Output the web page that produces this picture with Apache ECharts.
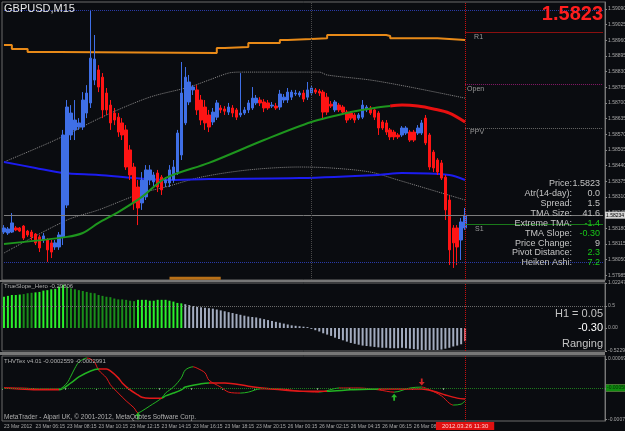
<!DOCTYPE html>
<html><head><meta charset="utf-8">
<script src="https://cdn.jsdelivr.net/npm/echarts@6/dist/echarts.min.js"></script>
<style>html,body{margin:0;padding:0;background:#0a0c10;}#c{width:625px;height:431px;}</style>
</head><body><div id="c"></div>
<script>
// ---------------- DATA ----------------
const symbolTitle = 'GBPUSD,M15';
const bigPrice = '1.5823';
const bidPrice = 1.58234;
const timeLabels = ['23 Mar 2012','23 Mar 06:15','23 Mar 08:15','23 Mar 10:15','23 Mar 12:15','23 Mar 14:15','23 Mar 16:15','23 Mar 18:15','23 Mar 20:15','26 Mar 00:15','26 Mar 02:15','26 Mar 04:15','26 Mar 06:15','26 Mar 08:15','26 Mar 10:15'];
const cursorTime = '2012.03.26 11:30';
const priceTicks = [1.59090,1.59025,1.58960,1.58895,1.58830,1.58765,1.58700,1.58635,1.58570,1.58505,1.58440,1.58375,1.58310,1.58245,1.58180,1.58115,1.58050,1.57985];

const opens = [1.58164,1.58160,1.58164,1.58181,1.58181,1.58189,1.58168,1.58164,1.58156,1.58144,
1.58131,1.58131,1.58119,1.58102,1.58102,1.58144,1.58276,1.58567,1.58588,1.58600,
1.58600,1.58658,1.58700,1.58795,1.58837,1.58807,1.58741,1.58691,1.58658,1.58641,
1.58617,1.58588,1.58505,1.58434,1.58351,1.58285,1.58310,1.58380,1.58372,1.58409,
1.58392,1.58368,1.58368,1.58380,1.58413,1.58484,1.58617,1.58704,1.58754,1.58754,
1.58712,1.58683,1.58650,1.58621,1.58641,1.58679,1.58675,1.58662,1.58679,1.58671,
1.58650,1.58658,1.58671,1.58679,1.58700,1.58712,1.58704,1.58700,1.58687,1.58687,
1.58683,1.58712,1.58712,1.58724,1.58737,1.58733,1.58741,1.58724,1.58741,1.58754,
1.58749,1.58745,1.58724,1.58695,1.58671,1.58691,1.58683,1.58662,1.58658,1.58650,
1.58637,1.58641,1.58671,1.58679,1.58671,1.58658,1.58621,1.58617,1.58588,1.58579,
1.58567,1.58567,1.58575,1.58579,1.58579,1.58575,1.58575,1.58637,1.58567,1.58496,
1.58463,1.58451,1.58392,1.58297,1.58181,1.58181,1.58131,1.58181];
const closes = [1.58181,1.58177,1.58202,1.58173,1.58168,1.58139,1.58152,1.58144,1.58119,1.58098,
1.58148,1.58090,1.58081,1.58119,1.58152,1.58567,1.58683,1.58658,1.58629,1.58617,
1.58712,1.58741,1.58886,1.58882,1.58766,1.58671,1.58671,1.58617,1.58629,1.58579,
1.58567,1.58434,1.58401,1.58285,1.58264,1.58380,1.58422,1.58422,1.58401,1.58351,
1.58339,1.58380,1.58422,1.58434,1.58575,1.58741,1.58807,1.58787,1.58766,1.58671,
1.58629,1.58617,1.58600,1.58662,1.58700,1.58671,1.58666,1.58683,1.58658,1.58641,
1.58658,1.58671,1.58700,1.58720,1.58720,1.58700,1.58679,1.58679,1.58691,1.58679,
1.58737,1.58724,1.58745,1.58745,1.58741,1.58741,1.58716,1.58754,1.58762,1.58745,
1.58741,1.58662,1.58662,1.58687,1.58704,1.58671,1.58662,1.58629,1.58637,1.58629,
1.58650,1.58691,1.58683,1.58658,1.58641,1.58596,1.58596,1.58579,1.58559,1.58559,
1.58559,1.58596,1.58596,1.58546,1.58546,1.58596,1.58617,1.58534,1.58434,1.58430,
1.58413,1.58388,1.58256,1.58090,1.58119,1.58102,1.58206,1.58234];
const lows = [1.58156,1.58152,1.58160,1.58168,1.58164,1.58131,1.58144,1.58131,1.58110,1.58081,
1.58119,1.58040,1.58056,1.58090,1.58090,1.58110,1.58264,1.58546,1.58546,1.58588,
1.58588,1.58637,1.58679,1.58774,1.58745,1.58637,1.58650,1.58588,1.58608,1.58559,
1.58546,1.58422,1.58380,1.58256,1.58193,1.58256,1.58297,1.58359,1.58351,1.58330,
1.58318,1.58351,1.58351,1.58368,1.58401,1.58463,1.58608,1.58691,1.58733,1.58650,
1.58608,1.58588,1.58579,1.58608,1.58629,1.58658,1.58650,1.58650,1.58641,1.58629,
1.58641,1.58650,1.58658,1.58671,1.58691,1.58687,1.58662,1.58671,1.58679,1.58671,
1.58671,1.58700,1.58700,1.58712,1.58729,1.58724,1.58704,1.58712,1.58733,1.58737,
1.58729,1.58629,1.58650,1.58679,1.58662,1.58662,1.58650,1.58617,1.58629,1.58617,
1.58629,1.58633,1.58662,1.58650,1.58629,1.58567,1.58588,1.58567,1.58546,1.58546,
1.58550,1.58559,1.58567,1.58538,1.58538,1.58567,1.58567,1.58525,1.58422,1.58413,
1.58401,1.58380,1.58214,1.58027,1.58015,1.58027,1.58048,1.58173];
const highs = [1.58193,1.58185,1.58243,1.58189,1.58185,1.58193,1.58173,1.58173,1.58160,1.58152,
1.58160,1.58139,1.58131,1.58131,1.58164,1.58588,1.58712,1.58691,1.58712,1.58637,
1.58745,1.58774,1.59086,1.58982,1.58857,1.58824,1.58762,1.58712,1.58679,1.58658,
1.58637,1.58608,1.58525,1.58451,1.58380,1.58413,1.58442,1.58442,1.58413,1.58422,
1.58401,1.58392,1.58442,1.58463,1.58588,1.58870,1.58849,1.58816,1.58774,1.58774,
1.58733,1.58712,1.58671,1.58679,1.58712,1.58691,1.58687,1.58700,1.58691,1.58679,
1.58824,1.58683,1.58712,1.58766,1.58733,1.58724,1.58716,1.58712,1.58704,1.58700,
1.58754,1.58737,1.58762,1.58754,1.58754,1.58749,1.58754,1.58787,1.58774,1.58762,
1.58758,1.58754,1.58741,1.58708,1.58712,1.58700,1.58691,1.58671,1.58666,1.58658,
1.58658,1.58712,1.58691,1.58687,1.58679,1.58666,1.58629,1.58629,1.58596,1.58588,
1.58575,1.58604,1.58604,1.58588,1.58588,1.58608,1.58629,1.58650,1.58575,1.58505,
1.58471,1.58463,1.58401,1.58318,1.58193,1.58193,1.58222,1.58264];

// indicator lines on price pane: [barIndex, price]
const upperBand = [[0,1.58940],[2,1.58924],[6,1.58911],[14,1.58907],[54,1.58928],[56,1.58932],[62,1.58949],[70,1.58961],[72,1.58965],[78,1.58969],[82,1.58982],[97,1.58978],[98,1.58969],[110,1.58961],[117,1.58961]];
const lowerBand = [[42,1.57972],[55,1.57972]];
const tmaUpper = [[0,1.58455],[13,1.58546],[26,1.58650],[37,1.58724],[47,1.58766],[52,1.58795],[57,1.58824],[60,1.58828],[80,1.58828],[82,1.58816],[93,1.58795],[103,1.58766],[117,1.58720]];
const tmaLower = [[0,1.58077],[16,1.58214],[24,1.58256],[35,1.58326],[41,1.58351],[50,1.58392],[62,1.58422],[75,1.58434],[83,1.58430],[93,1.58413],[100,1.58380],[117,1.58297]];
const maBlue = [[0,1.58455],[8,1.58430],[15,1.58409],[24,1.58401],[33,1.58388],[41,1.58380],[52,1.58384],[75,1.58388],[95,1.58401],[101,1.58409],[113,1.58401],[117,1.58380]];
const tmaRising = [[0,1.58114],[16,1.58144],[20,1.58160],[24,1.58202],[29,1.58247],[35,1.58310],[41,1.58388],[52,1.58451],[66,1.58546],[78,1.58621],[88,1.58662],[94,1.58679],[98,1.58687]];
const tmaFalling = [[98,1.58687],[101,1.58691],[105,1.58687],[109,1.58675],[113,1.58658],[117,1.58621]];

// pivot levels
const levelYH = 1.59086, levelR1 = 1.58994, levelOpen = 1.58778, levelPPV = 1.58596, levelS1 = 1.58196, levelYL = 1.58040;

// info panel
const infoLabels = ['Price:','Atr(14-day):','Spread:','TMA Size:','Extreme TMA:','TMA Slope:','Price Change:','Pivot Distance:','Heiken Ashi:'];
const infoValues = ['1.5823','0.0','1.5','41.6','-1.4','-0.30','9','2.3','7.2'];
const infoPositive = [false,false,false,false,true,true,false,true,true];

// slope histogram
const histVals = [0.71,0.73,0.75,0.75,0.76,0.77,0.79,0.80,0.81,0.82,
0.85,0.86,0.88,0.89,0.94,0.98,0.94,0.90,0.88,0.86,
0.84,0.82,0.80,0.79,0.75,0.73,0.71,0.70,0.67,0.65,
0.65,0.64,0.62,0.61,0.64,0.64,0.64,0.62,0.62,0.64,
0.64,0.64,0.62,0.60,0.57,0.56,0.54,0.52,0.50,0.48,
0.47,0.46,0.45,0.44,0.42,0.40,0.38,0.36,0.34,0.32,
0.30,0.28,0.26,0.25,0.24,0.22,0.20,0.18,0.16,0.14,
0.12,0.10,0.08,0.06,0.05,0.04,0.03,0.02,-0.02,-0.05,
-0.08,-0.12,-0.15,-0.18,-0.22,-0.25,-0.28,-0.31,-0.34,-0.36,
-0.38,-0.40,-0.41,-0.42,-0.43,-0.44,-0.45,-0.45,-0.46,-0.46,
-0.46,-0.45,-0.46,-0.47,-0.48,-0.49,-0.50,-0.50,-0.50,-0.50,
-0.50,-0.49,-0.47,-0.45,-0.42,-0.40,-0.37,-0.30];
const histState = 'BBBBBDDDBBBBBBBBDDDDDDDDDDDDDDDDDDBBBBBBBBBBBBGGGGGGGGGGGGGGGGGGGGGGGGGGGGGGGGGGGGGGGGGGGGGGGGGGGGGGGGGGGGGGGGGGGGGGGR';
const histTickVals = [1.0225, 0.5, 0, -0.52292];
const histTickText = ['1.02247','0.5','0.00','-0.52292'];
const histTexts = ['H1 = 0.05','-0.30','Ranging'];

// oscillator lines [barIndex, value]
const oscFast = [[0,0],[4,0],[9,-0.00002],[14,-0.00002],[16,0.00011],[17,0.00026],[18,0.00043],[19,0.00056],[21,0.00065],[22,0.00063],[23,0.00056],[24,0.00039],[26,0.00022],[27,0.00007],[29,-0.00011],[31,-0.00028],[33,-0.00043],[34,-0.00054],[35,-0.00050],[37,-0.00039],[40,-0.00022],[41,-0.00011],[43,0.00002],[45,0.00022],[46,0.00039],[48,0.00046],[49,0.00043],[51,0.00033],[52,0.00017],[55,0.00002],[57,-0.00009],[60,-0.00011],[62,-0.00009],[65,-0.00002],[70,-0.00002],[75,-0.00007],[80,-0.00009],[85,0],[90,0],[95,-0.00004],[99,-0.00009],[103,0],[106,0.00002],[108,-0.00004],[111,-0.00017],[113,-0.00033],[114,-0.00037],[116,-0.00035],[117,-0.00028]];
const oscSlow = [[0,0],[4,-0.00002],[9,-0.00004],[14,-0.00004],[17,0.00011],[19,0.00024],[22,0.00037],[24,0.00041],[26,0.00041],[27,0.00037],[29,0.00022],[30,0.00011],[32,-0.00004],[34,-0.00015],[35,-0.00020],[37,-0.00022],[40,-0.00022],[41,-0.00017],[43,-0.00011],[45,-0.00004],[46,0.00002],[50,0.00009],[52,0.00011],[56,0.00011],[62,0.00004],[68,-0.00002],[75,-0.00007],[82,-0.00007],[88,-0.00004],[95,-0.00002],[103,-0.00002],[106,-0.00002],[109,-0.00007],[112,-0.00015],[115,-0.00022],[117,-0.00024]];
const arrowsUp = [[34,-0.00061],[99,-0.00020]];
const arrowsDown = [[106,0.00013]];
const oscLevels = [0.0005, 0, -0.0005];
const oscLevelText = ['0.00050','0.00000','-0.00050'];
const oscTickVals = [0.00063, -0.00068];
const oscTickText = ['0.000694','-0.000716'];

// ---------------- CHART ----------------
const NCAT = 153, LAST = 117;
const cats = []; for (let i = 0; i < NCAT; i++) cats.push(i);
const FF = '"Liberation Sans", Arial, sans-serif';
const GREEN = '#22b422', RED = '#e01818';
const candleData = opens.map((o, i) => [o, closes[i], lows[i], highs[i]]);
const stateColor = {B:'#2cf02c', D:'#1a8e1a', G:'#a3acbf', R:'#e0707a'};

function slopePieces(pts, up, down) {
  const p = [];
  for (let k = 0; k < pts.length - 1; k++) {
    p.push({gte: pts[k][0], lt: pts[k+1][0], color: pts[k+1][1] > pts[k][1] ? up : down});
  }
  p.push({gte: pts[pts.length-1][0], color: p[p.length-1].color});
  return p;
}
const tickFn = (idx) => idx % 8 === 0 && idx / 8 < timeLabels.length;
const axisLbl = {fontSize: 5, color: '#a8a8a8', fontFamily: FF, margin: 3};
function seg(from, v, color, type, op, name, dx) {
  const a = {coord: [from, v], lineStyle: {color: color, type: type, width: 1, opacity: op}};
  a.label = name ? {show: true, formatter: name, position: 'insideStartBottom', color: '#9a9a9a', fontSize: 7, fontFamily: FF, distance: [dx, 1]} : {show: false};
  return [a, {coord: [NCAT - 1, v]}];
}
const bidSeg = seg(0, bidPrice, '#7c7c7c', 'solid', 1, null, 0);
bidSeg[0].label = {show: true, position: 'end', formatter: bidPrice.toFixed(5), backgroundColor: '#d4d4d4', color: '#000', fontSize: 5, fontFamily: FF, padding: [1, 1], distance: 2};
const gridBase = {left: 2, right: 20, show: true, borderColor: '#6a6a6a', borderWidth: 1, containLabel: false, outerBoundsMode: 'none'};
const BLUE_DOT = '#2b3caa';

const option = {
  backgroundColor: '#0a0c10',
  animation: false,
  grid: [
    Object.assign({top: 2, height: 278}, gridBase),
    Object.assign({top: 283, height: 68}, gridBase),
    Object.assign({top: 356, height: 65}, gridBase)
  ],
  xAxis: [
    {type: 'category', gridIndex: 0, data: cats, show: false},
    {type: 'category', gridIndex: 1, data: cats, show: false},
    {type: 'category', gridIndex: 2, data: cats, axisLine: {show: false},
     axisTick: {show: true, interval: tickFn, length: 2, lineStyle: {color: '#888'}},
     axisLabel: Object.assign({interval: tickFn, align: 'left', hideOverlap: false, formatter: (v, idx) => timeLabels[idx / 8]}, axisLbl, {margin: 3})}
  ],
  yAxis: [
    {type: 'value', gridIndex: 0, position: 'right', min: 1.57965, max: 1.59119, splitLine: {show: false},
     axisLine: {show: true, lineStyle: {color: '#777'}},
     axisTick: {show: true, customValues: priceTicks, length: 2, lineStyle: {color: '#888'}},
     axisLabel: Object.assign({customValues: priceTicks, formatter: v => v.toFixed(5)}, axisLbl)},
    {type: 'value', gridIndex: 1, position: 'right', min: -0.52292, max: 1.0225, splitLine: {show: false},
     axisLine: {show: true, lineStyle: {color: '#777'}},
     axisTick: {show: true, customValues: histTickVals, length: 2, lineStyle: {color: '#888'}},
     axisLabel: Object.assign({customValues: histTickVals, formatter: v => histTickText[histTickVals.indexOf(v)]}, axisLbl)},
    {type: 'value', gridIndex: 2, position: 'right', min: -0.000716, max: 0.000694, splitLine: {show: false},
     axisLine: {show: true, lineStyle: {color: '#777'}},
     axisTick: {show: true, customValues: oscTickVals, length: 2, lineStyle: {color: '#888'}},
     axisLabel: Object.assign({customValues: oscTickVals, formatter: v => oscTickText[oscTickVals.indexOf(v)]}, axisLbl)}
  ],
  visualMap: [
    {type: 'piecewise', show: false, seriesIndex: 10, dimension: 0, pieces: slopePieces(oscFast, GREEN, RED)},
    {type: 'piecewise', show: false, seriesIndex: 11, dimension: 0, pieces: slopePieces(oscSlow, GREEN, RED)}
  ],
  series: [
    {type: 'candlestick', xAxisIndex: 0, yAxisIndex: 0, data: candleData, barWidth: 3, z: 4,
     itemStyle: {color: '#3f6fe6', color0: '#ff1414', borderColor: '#3f6fe6', borderColor0: '#ff1414', borderWidth: 1}},
    {type: 'line', xAxisIndex: 0, yAxisIndex: 0, data: upperBand, step: 'end', symbol: 'none', lineStyle: {color: '#e88a18', width: 2}, z: 3,
     markLine: {silent: true, symbol: ['none', 'none'], animation: false, data: [
       seg(0, levelYH, BLUE_DOT, 'dotted', 1, null, 0),
       seg(0, levelYL, BLUE_DOT, 'dotted', 1, null, 0),
       bidSeg,
       seg(LAST, levelYH, BLUE_DOT, 'dotted', 0, 'yH', 9),
       seg(LAST, levelR1, '#8a1010', 'solid', 1, 'R1', 9),
       seg(LAST, levelOpen, '#8a1a6a', 'dotted', 1, 'Open', 2),
       seg(LAST, levelPPV, '#6a6a6a', 'dotted', 1, 'PPV', 5),
       seg(LAST, levelS1, '#1a7a1a', 'solid', 1, 'S1', 10),
       seg(LAST, levelYL, BLUE_DOT, 'dotted', 0, 'yL', 9),
       {xAxis: 78, lineStyle: {color: '#4a4a4a', type: 'dotted', width: 1}, label: {show: false}},
       {xAxis: LAST, lineStyle: {color: '#c81010', type: 'dotted', width: 1}, label: {show: false}}
     ]}},
    {type: 'line', xAxisIndex: 0, yAxisIndex: 0, data: lowerBand, symbol: 'none', lineStyle: {color: '#b87018', width: 3}, z: 3},
    {type: 'line', xAxisIndex: 0, yAxisIndex: 0, data: tmaUpper, smooth: 0.3, symbol: 'none', lineStyle: {color: '#8a8a8a', width: 1, type: 'dotted'}, z: 3},
    {type: 'line', xAxisIndex: 0, yAxisIndex: 0, data: tmaLower, smooth: 0.3, symbol: 'none', lineStyle: {color: '#8a8a8a', width: 1, type: 'dotted'}, z: 3},
    {type: 'line', xAxisIndex: 0, yAxisIndex: 0, data: maBlue, smooth: 0.3, symbol: 'none', lineStyle: {color: '#1c1cf0', width: 2}, z: 3},
    {type: 'line', xAxisIndex: 0, yAxisIndex: 0, data: tmaRising, smooth: 0.3, symbol: 'none', lineStyle: {color: '#1e961e', width: 2}, z: 5},
    {type: 'line', xAxisIndex: 0, yAxisIndex: 0, data: tmaFalling, smooth: 0.3, symbol: 'none', lineStyle: {color: '#e81010', width: 3}, z: 5},
    {type: 'bar', xAxisIndex: 1, yAxisIndex: 1, data: histVals, barWidth: 2,
     itemStyle: {color: p => stateColor[histState[p.dataIndex]]},
     markLine: {silent: true, symbol: ['none', 'none'], animation: false, data: [
       {yAxis: 0.5, lineStyle: {color: '#6a6a6a', type: 'dotted', width: 1}, label: {show: false}},
       {xAxis: LAST, lineStyle: {color: '#c81010', type: 'dotted', width: 1}, label: {show: false}}
     ]}},
    {type: 'scatter', xAxisIndex: 2, yAxisIndex: 2, data: arrowsUp, symbol: 'path://M5,0 L10,5 L6.5,5 L6.5,10 L3.5,10 L3.5,5 L0,5 Z', symbolSize: [6, 7], itemStyle: {color: '#2ee02e'}, z: 6},
    {type: 'line', xAxisIndex: 2, yAxisIndex: 2, data: oscFast, smooth: 0.3, symbol: 'none', lineStyle: {width: 1}, z: 4,
     markLine: {silent: true, symbol: ['none', 'none'], animation: false, data: [
       {yAxis: oscLevels[0], lineStyle: {color: '#8e1c1c', type: 'dotted', width: 1},
        label: {show: true, position: 'end', formatter: oscLevelText[0], backgroundColor: '#c81818', color: '#300', fontSize: 5, fontFamily: FF, padding: [1, 1], distance: 1}},
       {yAxis: oscLevels[1], lineStyle: {color: '#6a6a6a', type: 'dotted', width: 1},
        label: {show: true, position: 'end', formatter: oscLevelText[1], backgroundColor: '#a8a8a8', color: '#222', fontSize: 5, fontFamily: FF, padding: [1, 1], distance: 1}},
       {yAxis: oscLevels[2], lineStyle: {color: '#1c7a1c', type: 'dotted', width: 1},
        label: {show: true, position: 'end', formatter: oscLevelText[2], backgroundColor: '#108a10', color: '#030', fontSize: 5, fontFamily: FF, padding: [1, 1], distance: 1}},
       {xAxis: LAST, lineStyle: {color: '#c81010', type: 'dotted', width: 1},
        label: {show: true, position: 'start', formatter: cursorTime, backgroundColor: '#e01010', color: '#ffd0d0', fontSize: 6, fontFamily: FF, padding: [1, 6], distance: 1}}
     ]}},
    {type: 'line', xAxisIndex: 2, yAxisIndex: 2, data: oscSlow, smooth: 0.3, symbol: 'none', lineStyle: {width: 1.5}, z: 4},
    {type: 'scatter', xAxisIndex: 2, yAxisIndex: 2, data: arrowsDown, symbol: 'path://M5,0 L10,5 L6.5,5 L6.5,10 L3.5,10 L3.5,5 L0,5 Z', symbolRotate: 180, symbolSize: [6, 7], itemStyle: {color: '#ff2a2a'}, z: 6}
  ],
  graphic: []
};

const g = option.graphic;
g.push({type: 'rect', shape: {x: 0, y: 280, width: 605, height: 2}, style: {fill: '#777'}, z: 10});
g.push({type: 'rect', shape: {x: 0, y: 352, width: 605, height: 3}, style: {fill: '#777'}, z: 10});
g.push({type: 'text', x: 4, y: 9, style: {text: symbolTitle, fill: '#e6e6e6', font: '11px ' + FF, textVerticalAlign: 'middle'}, z: 20});
g.push({type: 'text', x: 603, y: 14, style: {text: bigPrice, fill: '#ff1e1e', font: 'bold 20px ' + FF, textAlign: 'right', textVerticalAlign: 'middle'}, z: 20});
for (let k = 0; k < infoLabels.length; k++) {
  const yy = 184 + k * 9.85;
  g.push({type: 'text', x: 572, y: yy, style: {text: infoLabels[k], fill: '#c4c4c4', font: '9px ' + FF, textAlign: 'right', textVerticalAlign: 'middle'}, z: 20});
  g.push({type: 'text', x: 600, y: yy, style: {text: infoValues[k], fill: infoPositive[k] ? '#18c818' : '#c4c4c4', font: '9px ' + FF, textAlign: 'right', textVerticalAlign: 'middle'}, z: 20});
}
const histTextY = [314, 328, 344];
const histTextColor = ['#c4c4c4', '#ffffff', '#c4c4c4'];
for (let k = 0; k < histTexts.length; k++) {
  g.push({type: 'text', x: 603, y: histTextY[k], style: {text: histTexts[k], fill: histTextColor[k], font: '11px ' + FF, textAlign: 'right', textVerticalAlign: 'middle'}, z: 20});
}
g.push({type: 'text', x: 4, y: 286, style: {text: 'TrueSlope_Hero -0.29806', fill: '#b0b0b0', font: '6px ' + FF, textVerticalAlign: 'middle'}, z: 20});
g.push({type: 'text', x: 4, y: 361, style: {text: 'THVTex v4.01 -0.0002559 -0.0002991', fill: '#b0b0b0', font: '6px ' + FF, textVerticalAlign: 'middle'}, z: 20});
g.push({type: 'text', x: 4, y: 417, style: {text: 'MetaTrader - Alpari UK, \u00a9 2001-2012, MetaQuotes Software Corp.', fill: '#b0b0b0', font: '6.5px ' + FF, textVerticalAlign: 'middle'}, z: 20});

const chart = echarts.init(document.getElementById('c'), null, {width: 625, height: 431});
chart.setOption(option);
</script></body></html>
